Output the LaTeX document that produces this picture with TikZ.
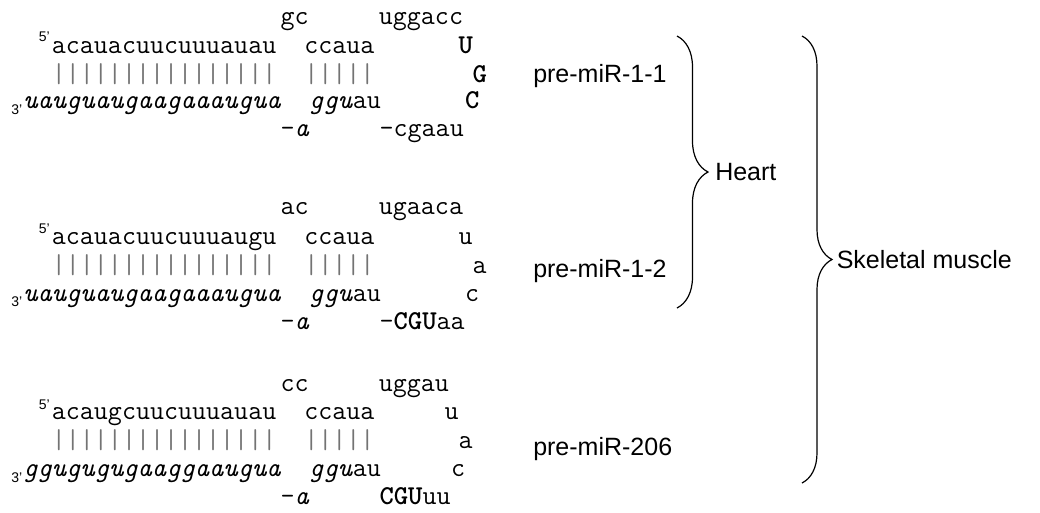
\documentclass[tikz,border=0pt]{standalone}
\usepackage{fontspec}
\setmainfont{Liberation Sans}
\usepackage{xcolor}
\usepackage{tikz}
\usetikzlibrary{decorations.pathreplacing}

% x position of a column of the monospaced hairpin grid
\newcommand{\seqcol}[1]{23+14.3*#1}

\begin{document}
\begin{tikzpicture}[
    x=0.75pt,y=-0.75pt,
    seq/.style={anchor=base west,inner sep=0pt,font=\fontsize{20.43}{22}\selectfont\ttfamily},
    pairs/.style={seq,text=black!55},
    endmark/.style={anchor=base west,inner sep=0pt,font=\fontsize{10.5}{12}\selectfont},
    mirname/.style={anchor=base west,inner sep=0pt,font=\fontsize{18.75}{22}\selectfont},
    tissue/.style={decorate,decoration={brace,amplitude=23.25pt},line width=0.9pt}
]
\useasboundingbox (0,0) rectangle (1040,512);

% pre-miR-1-1
\node[seq] (a0) at ({\seqcol{18}},24.3) {gc~~~~~uggacc};
\node[endmark] (a5) at (38.5,41) {5'};
\node[seq] (a1) at ({\seqcol{2}},53.3) {acauacuucuuuauau~~ccaua~~~~~~\textbf{U}};
\node[pairs] (a2) at ({\seqcol{2}},82) {||||||||||||||||~~|||||~~~~~~~\textcolor{black}{\textbf{G}}};
\node[endmark] (a3) at (11,114) {3'};
\node[seq] (a4) at ({\seqcol{0}},108.8) {\textit{uauguaugaagaaaugua}~~\textit{ggu}au~~~~~~\textbf{C}};
\node[seq] (a6) at ({\seqcol{18}},136.8) {-\textit{a}~~~~~-cgaau};
\node[mirname] (mir11) at (533,82) {pre-miR-1-1};

% pre-miR-1-2
\node[seq] (b0) at ({\seqcol{18}},214.8) {ac~~~~~ugaaca};
\node[endmark] (b5) at (38.5,233) {5'};
\node[seq] (b1) at ({\seqcol{2}},244.8) {acauacuucuuuaugu~~ccaua~~~~~~u};
\node[pairs] (b2) at ({\seqcol{2}},273.8) {||||||||||||||||~~|||||~~~~~~~\textcolor{black}{a}};
\node[endmark] (b3) at (11,306) {3'};
\node[seq] (b4) at ({\seqcol{0}},301.8) {\textit{uauguaugaagaaaugua}~~\textit{ggu}au~~~~~~c};
\node[seq] (b6) at ({\seqcol{18}},329.8) {-\textit{a}~~~~~-\textbf{CGU}aa};
\node[mirname] (mir12) at (533,277) {pre-miR-1-2};

% pre-miR-206
\node[seq] (c0) at ({\seqcol{18}},391.8) {cc~~~~~uggau};
\node[endmark] (c5) at (38.5,409) {5'};
\node[seq] (c1) at ({\seqcol{2}},419.8) {acaugcuucuuuauau~~ccaua~~~~~u};
\node[pairs] (c2) at ({\seqcol{2}},448.8) {||||||||||||||||~~|||||~~~~~~\textcolor{black}{a}};
\node[endmark] (c3) at (11,482) {3'};
\node[seq] (c4) at ({\seqcol{0}},476.8) {\textit{ggugugugaaggaaugua}~~\textit{ggu}au~~~~~c};
\node[seq] (c6) at ({\seqcol{18}},504.8) {-\textit{a}~~~~~\textbf{CGU}uu};
\node[mirname] (mir206) at (533,455) {pre-miR-206};

% tissue braces
\coordinate (hearttop) at (677,36);
\coordinate (heartbot) at (677,308);
\coordinate (skeltop) at (802,36);
\coordinate (skelbot) at (802,483);
\draw[tissue] (hearttop) -- (heartbot);
\draw[tissue,decoration={amplitude=22.5pt}] (skeltop) -- (skelbot);
\node[mirname] (heart) at (715,180) {Heart};
\node[mirname] (skeletal) at (836.5,268) {Skeletal muscle};
\end{tikzpicture}
\end{document}
